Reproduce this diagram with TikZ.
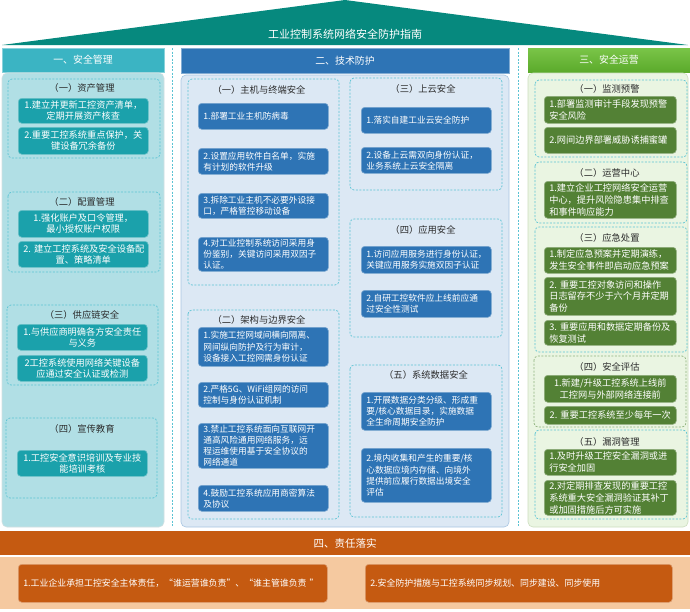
\documentclass[tikz,border=0pt]{standalone}
\usepackage{fontspec}
\setmainfont{Noto Sans CJK SC}
\definecolor{roof}{HTML}{06897E}
\definecolor{tealhd}{HTML}{3BB4C3}
\definecolor{tealbox}{HTML}{1BA1AB}
\definecolor{tealpanel}{HTML}{B1DFE5}
\definecolor{bluebox}{HTML}{2E74B5}
\definecolor{bluepanel}{HTML}{DCE8F4}
\definecolor{greentop}{HTML}{7AC548}
\definecolor{greenbot}{HTML}{5BAA2B}
\definecolor{greenbox}{HTML}{538135}
\definecolor{greenpanel}{HTML}{EAF5E2}
\definecolor{orangebox}{HTML}{C55A11}
\definecolor{orangepanel}{HTML}{F5C9A0}
\definecolor{dash}{HTML}{5BC3D3}
\definecolor{dashg}{HTML}{8FB27E}
\definecolor{ink}{HTML}{2B2B2B}
\newcommand\bx[7]{\pgfmathsetmacro\bxtw{#4-10}\node[#6, minimum width=#4pt, minimum height=#5pt, text width=\bxtw pt] (#1) at (#2,#3) {#7};}
\begin{document}
\begin{tikzpicture}[x=1pt,y=-1pt,
  bx/.style={anchor=north west, rounded corners=3.5pt, text=white, inner xsep=5pt, inner ysep=0pt, line width=0.6pt},
  tealbx/.style={bx, fill=tealbox, draw=tealbox!65!white, align=center, font=\fontsize{9.2}{11.3}\selectfont},
  bluebx/.style={bx, fill=bluebox, draw=bluebox!65!white, align=left, font=\fontsize{8.7}{11.2}\selectfont},
  greenbx/.style={bx, fill=greenbox, draw=greenbox!65!white, align=left, font=\fontsize{9.2}{11.7}\selectfont},
  greenbxc/.style={greenbx, align=center},
  orangebx/.style={bx, fill=orangebox, draw=orangebox!60!white, align=left, font=\fontsize{8.9}{11}\selectfont},
  grp/.style={draw=dash, dash pattern=on 2pt off 1.5pt, line width=0.7pt, rounded corners=4pt},
  ttl/.style={text=ink, font=\fontsize{9.3}{11}\selectfont, inner sep=1pt},
  hd/.style={text=white, font=\fontsize{9.9}{12}\selectfont, inner sep=0pt},
  panel/.style={rounded corners=5pt, line width=0.6pt},
  sep/.style={draw=dash, dash pattern=on 2pt off 1.5pt, line width=0.7pt}
]
\useasboundingbox (0,0) rectangle (690,611);
\fill[white] (0,0) rectangle (690,611);
% roof
\fill[roof] (2,45) -- (345,0) -- (688,45) -- cycle;
\node[hd, font=\fontsize{11}{13}\selectfont] (title) at (345,34) {工业控制系统网络安全防护指南};
% headers
\node[hd, fill=tealhd, draw=tealhd!60!white, line width=0.5pt, minimum width=162pt, minimum height=24pt] (h1) at (83,60) {一、安全管理};
\node[hd, fill=bluebox, draw=bluebox!60!white, line width=0.5pt, minimum width=328pt, minimum height=25pt] (h2) at (345,60.5) {二、技术防护};
\node[hd, top color=greentop, bottom color=greenbot, minimum width=162pt, minimum height=24pt] (h3) at (609,60) {三、安全运营};
% separators
\draw[sep] (172,48) -- (172,527);
\draw[sep] (518,48) -- (518,527);
% panels
\draw[panel, fill=tealpanel, draw=tealpanel!80!black!40!white] (2,73) rectangle (164,527);
\draw[panel, fill=bluepanel, draw=bluepanel!70!bluebox] (181,75) rectangle (509,527);
\draw[panel, fill=greenpanel, draw=greenpanel!80!greenbox] (528,73) rectangle (688,527);

% ---------- left column ----------
\draw[grp] (8,79) rectangle (160,158);
\node[ttl] (ta) at (82,88) {（一）资产管理};
\bx{a1}{18}{98}{130}{25}{tealbx}{1.建立并更新工控资产清单，\\定期开展资产核查}
\bx{a2}{18}{127}{130}{27}{tealbx}{2.重要工控系统重点保护，关\\键设备冗余备份}
\draw[grp] (8,192) rectangle (160,272);
\node[ttl] (tb) at (82,202) {（二）配置管理};
\bx{b1}{18}{210}{130}{27}{tealbx}{1.强化账户及口令管理，\\最小授权账户权限}
\bx{b2}{18}{241}{130}{26}{tealbx}{2.~建立工控系统及安全设备配\\置、策略清单}
\draw[grp] (7,305) rectangle (158,385);
\node[ttl] (tc) at (82,315) {（三）供应链安全};
\bx{c1}{17}{324}{130}{26}{tealbx}{1.与供应商明确各方安全责任\\与义务}
\bx{c2}{17}{355}{130}{26}{tealbx}{2工控系统使用网络关键设备\\应通过安全认证或检测}
\draw[grp] (6,418) rectangle (157,498);
\node[ttl] (td) at (82,429) {（四）宣传教育};
\bx{d1}{17}{450}{130}{26}{tealbx}{1.工控安全意识培训及专业技\\能培训考核}

% ---------- middle column ----------
\draw[grp] (188,79) rectangle (339,285);
\node[ttl] (te) at (259,90) {（一）主机与终端安全};
\bx{e1}{198}{103}{130}{26}{bluebx}{1.部署工业主机防病毒}
\bx{e2}{198}{148}{130}{26}{bluebx}{2.设置应用软件白名单，实施\\有计划的软件升级}
\bx{e3}{198}{193}{130}{25}{bluebx}{3.拆除工业主机不必要外设接\\口，严格管控移动设备}
\bx{e4}{198}{237}{130}{34}{bluebx}{4.对工业控制系统访问采用身\\份鉴别，关键访问采用双因子\\认证。}
\draw[grp] (188,310) rectangle (339,519);
\node[ttl] (tf) at (259,320) {（二）架构与边界安全};
\bx{f1}{198}{327}{130}{39}{bluebx}{1.实施工控网域间横向隔离、\\网间纵向防护及行为审计，\\设备接入工控网需身份认证}
\bx{f2}{198}{382}{130}{25}{bluebx}{2.严格5G、WiFi组网的访问\\控制与身份认证机制}
\bx{f3}{198}{423}{130}{45}{bluebx}{3.禁止工控系统面向互联网开\\通高风险通用网络服务，远\\程运维使用基于安全协议的\\网络通道}
\bx{f4}{198}{485}{130}{26}{bluebx}{4.鼓励工控系统应用商密算法\\及协议}

\draw[grp] (350,78) rectangle (502,190);
\node[ttl] (tg) at (423,89) {（三）上云安全};
\bx{g1}{361}{107}{130}{26}{bluebx}{1.落实自建工业云安全防护}
\bx{g2}{361}{147}{130}{26}{bluebx}{2.设备上云需双向身份认证，\\业务系统上云安全隔离}
\draw[grp] (350,219) rectangle (502,337);
\node[ttl] (th) at (423,230) {（四）应用安全};
\bx{h1b}{361}{246}{130}{27}{bluebx}{1.访问应用服务进行身份认证，\\关键应用服务实施双因子认证}
\bx{h2b}{361}{290}{130}{27}{bluebx}{2.自研工控软件应上线前应通\\过安全性测试}
\draw[grp] (350,365) rectangle (502,517);
\node[ttl] (ti) at (426,375) {（五）系统数据安全};
\bx{i1}{361}{392}{130}{38}{bluebx}{1.开展数据分类分级、形成重\\要/核心数据目录，实施数据\\全生命周期安全防护}
\bx{i2}{361}{448}{130}{54}{bluebx}{2.境内收集和产生的重要/核\\心数据应境内存储、向境外\\提供前应履行数据出境安全\\评估}

% ---------- right column ----------
\draw[grp] (535,80) rectangle (687,157);
\node[ttl] (tj) at (607,89) {（一）监测预警};
\bx{j1}{544}{96}{132}{27}{greenbx}{1.部署监测审计手段发现预警\\安全风险}
\bx{j2}{544}{127}{132}{26}{greenbx}{2.网间边界部署威胁诱捕蜜罐}
\draw[grp] (535,162) rectangle (687,223);
\node[ttl] (tk) at (607,173) {（二）运营中心};
\bx{k1}{544}{181}{132}{37}{greenbx}{1.建立企业工控网络安全运营\\中心，提升风险隐患集中排查\\和事件响应能力}
\draw[grp] (535,227) rectangle (687,352);
\node[ttl] (tl) at (607,238) {（三）应急处置};
\bx{l1}{544}{247}{132}{26}{greenbx}{1.制定应急预案并定期演练，\\发生安全事件即启动应急预案}
\bx{l2}{544}{277}{132}{38}{greenbx}{2.~重要工控对象访问和操作\\日志留存不少于六个月并定期\\备份}
\bx{l3}{544}{320}{132}{25}{greenbx}{3.~重要应用和数据定期备份及\\恢复测试}
\draw[grp, draw=dashg] (534,356) rectangle (686,427);
\node[ttl] (tm) at (607,367) {（四）安全评估};
\bx{m1}{544}{375}{132}{27}{greenbxc}{1.新建/升级工控系统上线前\\工控网与外部网络连接前}
\bx{m2}{544}{406}{132}{18}{greenbxc}{2.~重要工控系统至少每年一次}
\draw[grp] (535,430) rectangle (687,519);
\node[ttl] (tn) at (607,442) {（五）漏洞管理};
\bx{n1}{544}{449}{132}{26}{greenbx}{1.及时升级工控安全漏洞或进\\行安全加固}
\bx{n2}{544}{480}{132}{35}{greenbx}{2.对定期排查发现的重要工控\\系统重大安全漏洞验证其补丁\\或加固措施后方可实施}

% ---------- bottom ----------
\node[hd, fill=orangebox, font=\fontsize{10.5}{12}\selectfont, minimum width=690pt, minimum height=24pt] (h4) at (345,543) {四、责任落实};
\fill[orangepanel] (0,557) rectangle (690,609);
\bx{o1}{18}{564}{309}{38}{orangebx}{1.工业企业承担工控安全主体责任，“谁运营谁负责”、“谁主管谁负责 ”}
\bx{o2}{365}{564}{307}{38}{orangebx}{2.安全防护措施与工控系统同步规划、同步建设、同步使用}
\end{tikzpicture}
\end{document}
